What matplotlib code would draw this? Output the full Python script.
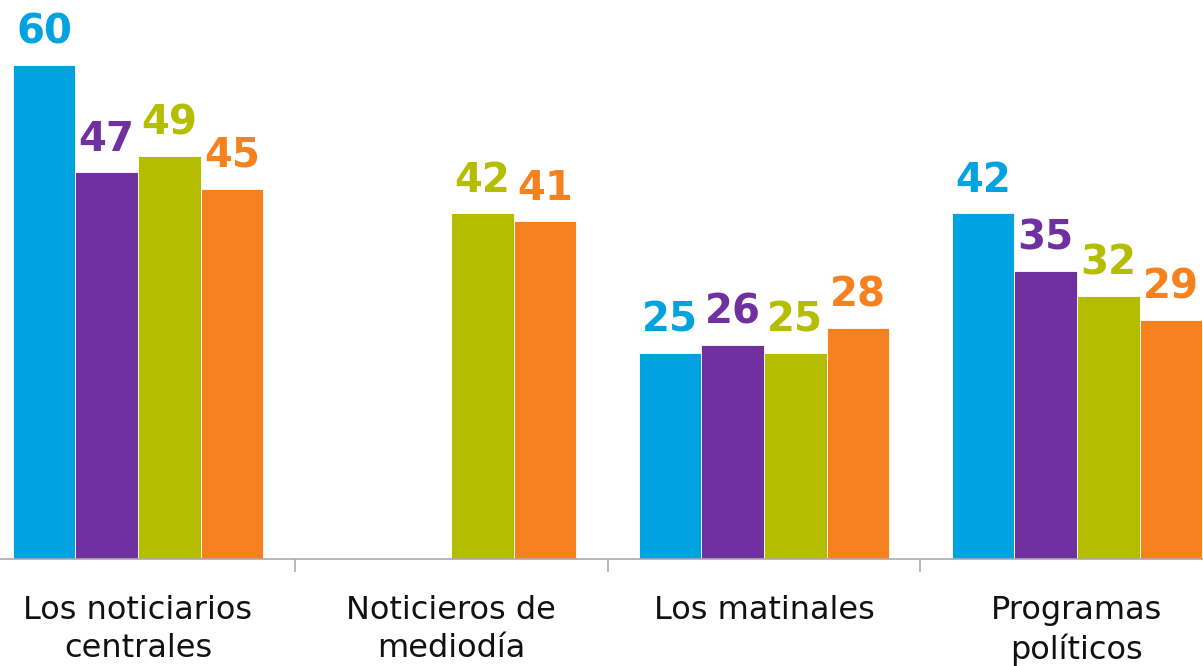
import numpy as np
import matplotlib
matplotlib.use("Agg")
import matplotlib.pyplot as plt

categories = ["Los noticiarios\ncentrales", "Noticieros de\nmediodía", "Los matinales", "Programas\npolíticos"]
serie_1 = [60, np.nan, 25, 42]
serie_2 = [47, np.nan, 26, 35]
serie_3 = [49, 42, 25, 32]
serie_4 = [45, 41, 28, 29]
series = [serie_1, serie_2, serie_3, serie_4]
colors = ["#00A3E0", "#7030A0", "#B5BD00", "#F5821F"]

fig = plt.figure(figsize=(12.03, 6.66), dpi=100)
ax = fig.add_axes([0, 0.1607, 1, 0.8393])

x = np.arange(len(categories))
w = 0.2
for i, (vals, c) in enumerate(zip(series, colors)):
    pos = x + (i - 1.5) * w
    ax.bar(pos, vals, width=w, color=c, edgecolor="white", linewidth=0.6)
    for px, v in zip(pos, vals):
        if np.isnan(v):
            continue
        ax.annotate(f"{v:.0f}", (px, v), xytext=(0, 15.5), textcoords="offset points",
                    ha="center", va="baseline", fontsize=29, fontweight="bold", color=c)

ax.set_xlim(-0.441, 3.4026)
ax.set_ylim(0, 67.9)

for s in ["top", "right", "left"]:
    ax.spines[s].set_visible(False)
ax.spines["bottom"].set_color("#AAAAAA")
ax.spines["bottom"].set_linewidth(1.2)
ax.set_yticks([])

ax.set_xticks([0.5, 1.5, 2.5])
ax.set_xticklabels([])
ax.tick_params(axis="x", which="major", length=9.5, width=1.2, color="#AAAAAA")
ax.set_xticks(x, minor=True)
ax.set_xticklabels(categories, minor=True, fontsize=23, color="#111111", linespacing=1.3)
ax.tick_params(axis="x", which="minor", length=0, pad=26)

fig.savefig("out.png", dpi=100)
